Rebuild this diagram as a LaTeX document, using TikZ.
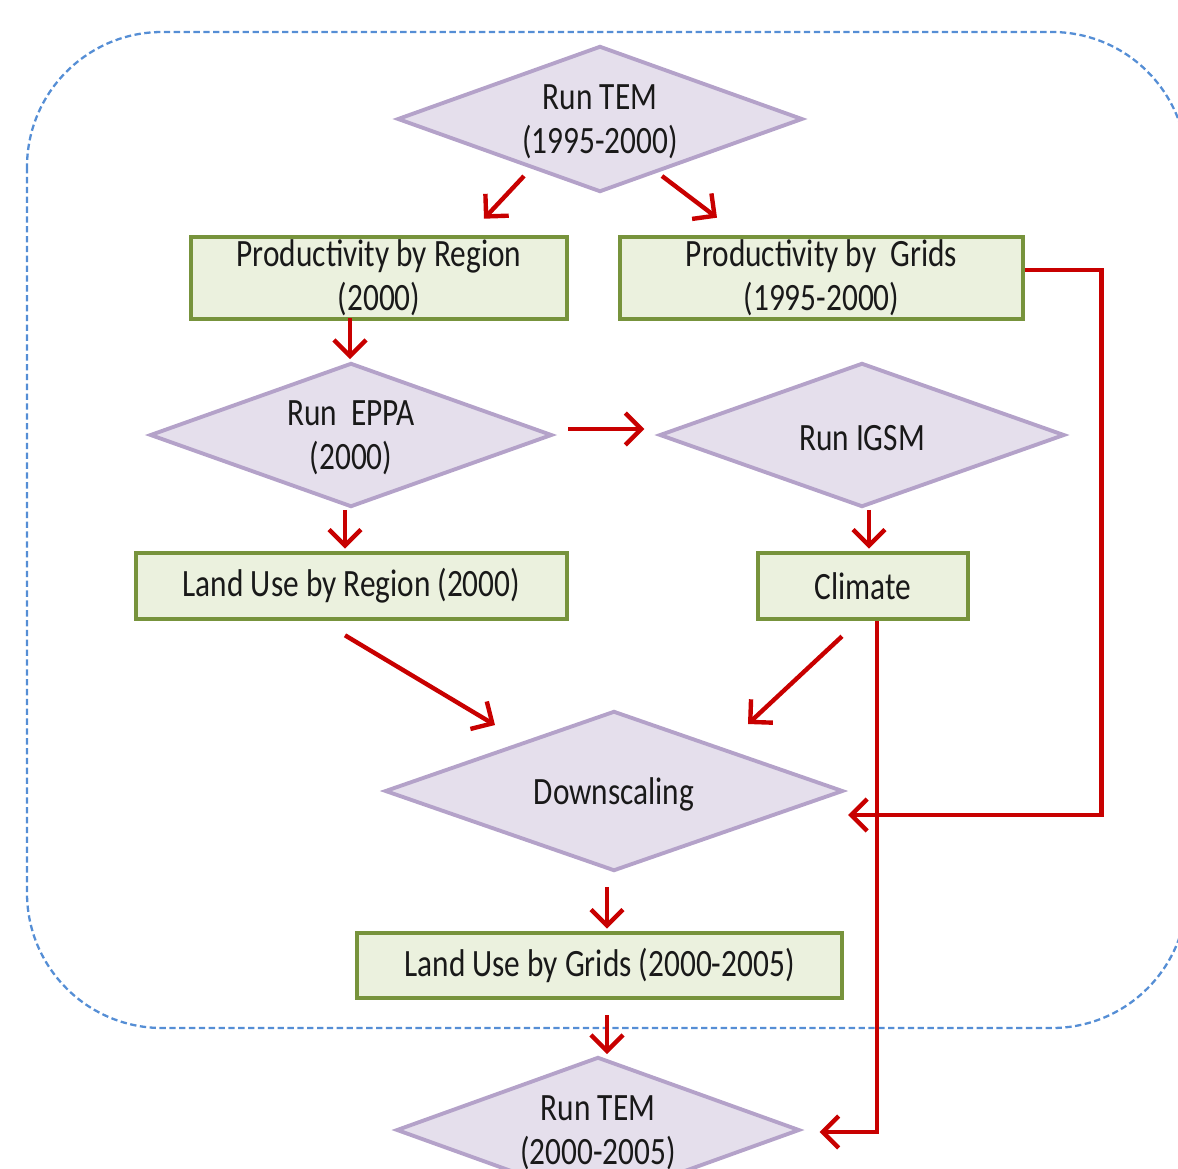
\documentclass[tikz,border=0pt]{standalone}
\usepackage{fontspec}
\setmainfont{Carlito}[FakeStretch=0.81]
\usetikzlibrary{shapes.geometric,arrows.meta,calc}
\definecolor{diafill}{RGB}{229,223,236}
\definecolor{diadraw}{RGB}{180,162,201}
\definecolor{boxfill}{RGB}{235,241,222}
\definecolor{boxdraw}{RGB}{119,147,60}
\definecolor{arrred}{RGB}{200,0,0}
\definecolor{bordblue}{RGB}{85,142,213}
\definecolor{txt}{RGB}{25,25,25}
\begin{document}
\begin{tikzpicture}[x=0.01cm,y=-0.01cm,
  txtfont/.style={font=\fontsize{11}{12.4}\selectfont, text=txt},
  dia/.style={diamond, draw=diadraw, fill=diafill, line width=1.1pt, inner sep=0pt},
  dlabel/.style={txtfont, align=center, yshift=-0.03cm},
  box/.style={rectangle, draw=boxdraw, fill=boxfill, line width=1.3pt, inner sep=0pt, align=center, txtfont},
  arr/.style={draw=arrred, line width=1.25pt, -{Straight Barb[length=1.6mm,width=3.2mm]}},
  border/.style={draw=bordblue, line width=0.65pt, dash pattern=on 1.8pt off 1.0pt, rounded corners=1.35cm}
]
\useasboundingbox (0,0) rectangle (1178,1169);
\clip (0,0) rectangle (1178,1169);

% dashed frame
\draw[border] (27,32) rectangle (1187,1028);

% diamonds
\node[dia, minimum width=4.05cm, minimum height=1.46cm,
      label={[dlabel]center:{Run TEM\\(1995-2000)}}] (tem1) at (600,119) {};
\node[dia, minimum width=4.02cm, minimum height=1.44cm,
      label={[dlabel]center:{Run~~EPPA\\(2000)}}] (eppa) at (351,435) {};
\node[dia, minimum width=4.05cm, minimum height=1.44cm,
      label={[dlabel]center:{Run IGSM}}] (igsm) at (862,435) {};
\node[dia, minimum width=4.58cm, minimum height=1.60cm,
      label={[dlabel]center:{Downscaling}}] (down) at (614,791) {};
\node[dia, minimum width=4.03cm, minimum height=1.46cm,
      label={[dlabel]center:{Run TEM\\(2000-2005)}}] (tem2) at (598,1130) {};

% boxes
\node[box, minimum width=3.76cm, minimum height=0.82cm] (pr) at (379,278) {Productivity by Region\\(2000)};
\node[box, minimum width=4.03cm, minimum height=0.82cm] (pg) at (821.5,278) {Productivity by~~Grids\\(1995-2000)};
\node[box, minimum width=4.31cm, minimum height=0.66cm] (lur) at (351.5,586) {Land Use by Region (2000)};
\node[box, minimum width=2.10cm, minimum height=0.66cm] (cl) at (863,586) {Climate};
\node[box, minimum width=4.85cm, minimum height=0.65cm] (lug) at (599.5,965.5) {Land Use by Grids (2000-2005)};

% connectors
\draw[arr] ($(tem1.center)+(-76,57)$) -- ($(pr.north)+(105,-16)$);
\draw[arr] ($(tem1.center)+(62,57)$) -- ($(pg.north)+(-104.5,-17)$);
\draw[arr] ($(pr.south)+(-29,-3)$) -- ($(eppa.north)+(-1,-2)$);
\draw[arr] ($(eppa.east)+(14,-6)$) -- ($(igsm.west)+(-13,-6)$);
\draw[arr] ($(eppa.south)+(-6,1)$) -- ($(lur.north)+(-6.5,-2)$);
\draw[arr] ($(igsm.south)+(7,1)$) -- ($(cl.north)+(6,-2)$);
\draw[arr] ($(lur.south)+(-6.5,14)$) -- ($(down.north)+(-119,16)$);
\draw[arr] ($(cl.south)+(-21,15)$) -- ($(down.north)+(134,15)$);
\draw[arr] ($(pg.east)+(0,-8)$) -- ++(76,0) |- ($(down.east)+(3,24)$);
\draw[arr] ($(cl.south)+(14,0)$) |- ($(tem2.east)+(18,2)$);
\draw[arr] ($(down.south)+(-7,14)$) -- ($(lug.north)+(7.5,-2)$);
\draw[arr] ($(lug.south)+(7.5,15)$) -- ($(tem2.north)+(9,-1)$);
\end{tikzpicture}
\end{document}
